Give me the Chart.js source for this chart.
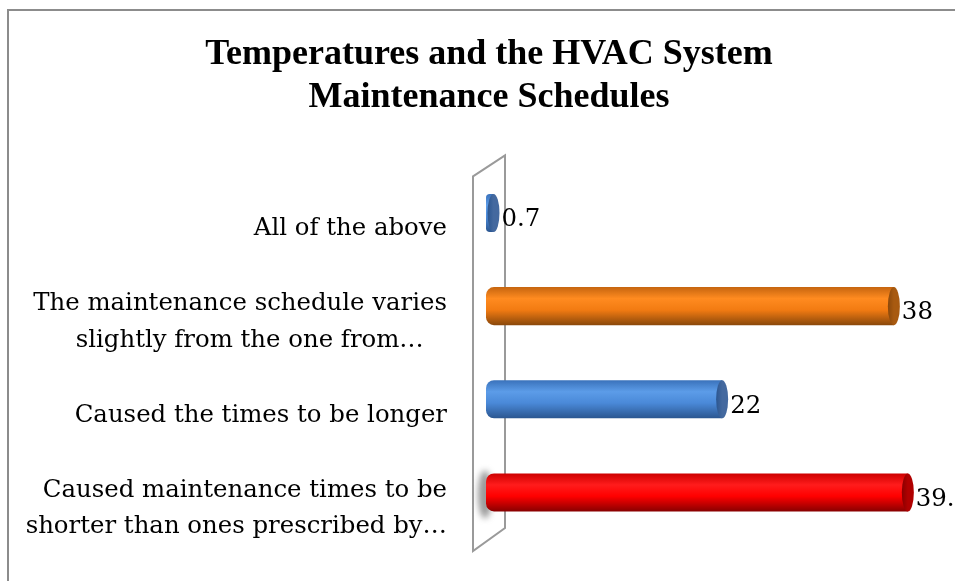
<!DOCTYPE html>
<html>
<head>
<meta charset="utf-8">
<script src="https://cdn.jsdelivr.net/npm/chart.js@4.4.1/dist/chart.umd.min.js"></script>
<style>
  html, body { margin: 0; padding: 0; background: #fff; overflow: hidden; }
  #box { position: absolute; left: 7px; top: 9px; width: 985px; height: 590px;
         border: 2px solid #8c8c8c; overflow: hidden; background: #fff; }
</style>
</head>
<body>
<div id="box"><canvas id="myChart" width="985" height="590"></canvas></div>
<script>
// Datos del gráfico
const categories = [
    'All of the above',
    ['The maintenance schedule varies', 'slightly from the one from…\u00a0\u00a0\u00a0'],
    'Caused the times to be longer',
    ['Caused maintenance times to be', 'shorter than ones prescribed by…']
];
const values = [0.7, 38, 22, 39.3];
const titleLines = ['Temperatures and the HVAC System', 'Maintenance Schedules'];

// Colores de cada cilindro: [arriba, brillo, medio, abajo, tapa]
const barColors = [
    ['#3a72bb', '#5c9ce8', '#4a89d8', '#2b5690', '#44699f'],
    ['#c6650f', '#ff8b20', '#f27b12', '#8a480b', '#a85a10'],
    ['#3a72bb', '#5c9ce8', '#4a89d8', '#2b5690', '#44699f'],
    ['#cc0000', '#ff1c1c', '#ff0000', '#880000', '#b00000']
];

const labelFont = { family: 'DejaVu Serif', size: 24.4, lineHeight: 1.48 };
const half = 19;

function cylinderFill(c) {
    const chart = c.chart;
    const y = chart.scales.y;
    if (!chart.chartArea || !y) return barColors[c.dataIndex][2];
    const yc = y.getPixelForValue(c.dataIndex);
    const cols = barColors[c.dataIndex];
    const g = chart.ctx.createLinearGradient(0, yc - half, 0, yc + half);
    g.addColorStop(0, cols[0]);
    g.addColorStop(0.3, cols[1]);
    g.addColorStop(0.6, cols[2]);
    g.addColorStop(1, cols[3]);
    return g;
}

// Pared del fondo y tapas de los cilindros
const cylinderPlugin = {
    id: 'cylinders',
    beforeDatasetsDraw(chart) {
        const ctx = chart.ctx;
        const area = chart.chartArea;
        const x0 = chart.scales.x.getPixelForValue(0);
        ctx.save();
        ctx.strokeStyle = '#9a9a9a';
        ctx.lineWidth = 2;
        ctx.beginPath();
        ctx.moveTo(x0 - 13, area.top + 10);
        ctx.lineTo(x0 + 19, area.top - 11);
        ctx.lineTo(x0 + 19, area.bottom - 11);
        ctx.lineTo(x0 - 13, area.bottom + 12);
        ctx.closePath();
        ctx.stroke();
        // sombra del último cilindro
        const yr = chart.scales.y.getPixelForValue(values.length - 1);
        ctx.filter = 'blur(3px)';
        ctx.fillStyle = 'rgba(110,110,110,0.7)';
        ctx.beginPath();
        ctx.ellipse(x0 - 1, yr + 2, 7, half + 5, 0, 0, Math.PI * 2);
        ctx.fill();
        ctx.restore();
    },
    afterDatasetsDraw(chart) {
        const ctx = chart.ctx;
        const meta = chart.getDatasetMeta(0);
        ctx.save();
        meta.data.forEach((el, i) => {
            const cols = barColors[i];
            const g = ctx.createLinearGradient(el.x - 6, 0, el.x + 6, 0);
            g.addColorStop(0, cols[3]);
            g.addColorStop(0.5, cols[4]);
            g.addColorStop(1, cols[4]);
            ctx.fillStyle = g;
            ctx.beginPath();
            ctx.ellipse(el.x, el.y, 6, el.height / 2, 0, 0, Math.PI * 2);
            ctx.fill();
            ctx.fillStyle = '#000';
            ctx.font = labelFont.size + 'px "' + labelFont.family + '"';
            ctx.textAlign = 'left';
            ctx.textBaseline = 'middle';
            ctx.fillText(String(values[i]), el.x + 8, el.y + 7);
        });
        ctx.restore();
    }
};

let ctx = document.getElementById('myChart');
let chart = new Chart(ctx, {
    type: 'bar',
    data: {
        labels: categories,
        datasets: [{
            data: values,
            backgroundColor: cylinderFill,
            borderWidth: 0,
            borderSkipped: false,
            borderRadius: { topLeft: 8, bottomLeft: 8, topRight: 0, bottomRight: 0 },
            barPercentage: 38 / 93,
            categoryPercentage: 1
        }]
    },
    options: {
        indexAxis: 'y',
        responsive: false,
        animation: false,
        layout: { padding: { left: 0, right: 25, top: 0, bottom: 62 } },
        plugins: {
            legend: { display: false },
            tooltip: { enabled: false },
            title: {
                display: true,
                text: titleLines,
                color: '#000',
                font: { family: 'Liberation Serif', size: 36, weight: 'bold', lineHeight: 1.2 },
                padding: { top: 22, bottom: 47 }
            }
        },
        scales: {
            x: {
                display: false,
                min: 0,
                max: 45
            },
            y: {
                grid: { display: false, drawTicks: false },
                border: { display: false },
                afterFit: (scale) => { scale.width = 477; },
                ticks: {
                    color: '#000',
                    font: labelFont,
                    padding: 39,
                    labelOffset: 16,
                    autoSkip: false
                }
            }
        }
    },
    plugins: [cylinderPlugin]
});
</script>
</body>
</html>
